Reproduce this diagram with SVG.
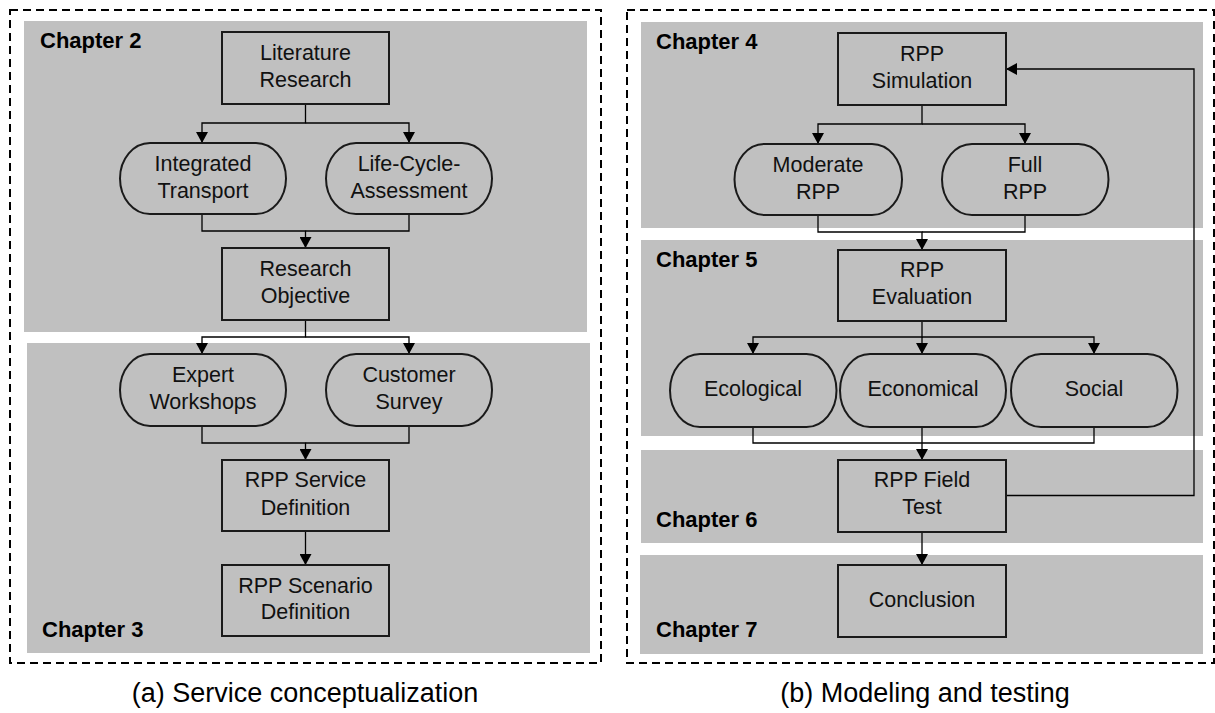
<svg xmlns="http://www.w3.org/2000/svg" width="1215" height="713" viewBox="0 0 1215 713">
<style>
.frame{fill:none;stroke:#000;stroke-width:2;stroke-dasharray:8 5}
.band{fill:#c0c0c0}
.box{fill:#c0c0c0;stroke:#1a1a1a;stroke-width:2}
.t{font-family:"Liberation Sans",Arial,sans-serif;font-size:21.5px;fill:#111;text-anchor:middle}
.ch{font-family:"Liberation Sans",Arial,sans-serif;font-size:22px;font-weight:bold;fill:#000}
.cap{font-family:"Liberation Sans",Arial,sans-serif;font-size:27px;fill:#000;text-anchor:middle}
.c{fill:none;stroke:#000;stroke-width:1.3}
</style>
<defs>
<marker id="ah" viewBox="0 0 11 12" refX="11" refY="6" markerWidth="11" markerHeight="12" markerUnits="userSpaceOnUse" orient="auto">
<path d="M0,0 L11,6 L0,12 z" fill="#000"/>
</marker>
</defs>
<rect class="frame" x="10" y="10" width="591" height="653"/>
<rect class="frame" x="627" y="10" width="587" height="653"/>
<g id="bands">
<rect class="band" x="24" y="21" width="563" height="311"/>
<rect class="band" x="27" y="343" width="563" height="310"/>
<rect class="band" x="641" y="22" width="562" height="206"/>
<rect class="band" x="641" y="240" width="562" height="196"/>
<rect class="band" x="641" y="450" width="562" height="93"/>
<rect class="band" x="640" y="555" width="563" height="99"/>
<text class="ch" x="40" y="48">Chapter 2</text>
<text class="ch" x="42" y="637">Chapter 3</text>
<text class="ch" x="656" y="49">Chapter 4</text>
<text class="ch" x="656" y="267">Chapter 5</text>
<text class="ch" x="656" y="527">Chapter 6</text>
<text class="ch" x="656" y="637">Chapter 7</text>
</g>
<g id="connectors">
<path class="c" d="M305.5,104 V123 H202 V143" marker-end="url(#ah)"/>
<path class="c" d="M305.5,123 H409 V143" marker-end="url(#ah)"/>
<path class="c" d="M202,214 V231 H305.5 V248" marker-end="url(#ah)"/>
<path class="c" d="M409,214 V231 H305.5"/>
<path class="c" d="M305.5,320 V337 H202 V354" marker-end="url(#ah)"/>
<path class="c" d="M305.5,337 H409 V354" marker-end="url(#ah)"/>
<path class="c" d="M202,426 V443 H305.5 V460" marker-end="url(#ah)"/>
<path class="c" d="M409,426 V443 H305.5"/>
<path class="c" d="M305.5,531 V565" marker-end="url(#ah)"/>
<path class="c" d="M922,105 V124 H818 V144" marker-end="url(#ah)"/>
<path class="c" d="M922,124 H1025 V144" marker-end="url(#ah)"/>
<path class="c" d="M818,215 V232 H922 V250" marker-end="url(#ah)"/>
<path class="c" d="M1025,215 V232 H922"/>
<path class="c" d="M922,321 V337 H753 V354" marker-end="url(#ah)"/>
<path class="c" d="M922,337 H1094 V354" marker-end="url(#ah)"/>
<path class="c" d="M922,337 V354" marker-end="url(#ah)"/>
<path class="c" d="M753,427 V443 H922"/>
<path class="c" d="M1094,427 V443 H922"/>
<path class="c" d="M922,427 V460" marker-end="url(#ah)"/>
<path class="c" d="M922,532 V565" marker-end="url(#ah)"/>
<path class="c" d="M1006,495.5 H1194 V69 H1006" marker-end="url(#ah)"/>
</g>
<g id="lit"><rect class="box" x="222" y="32" width="167" height="72"/><text class="t" x="305.5" y="60">Literature</text><text class="t" x="305.5" y="87">Research</text></g>
<g id="integrated"><rect class="box" x="120" y="143" width="166" height="71" rx="30" ry="35.5"/><text class="t" x="203" y="171">Integrated</text><text class="t" x="203" y="198">Transport</text></g>
<g id="lca"><rect class="box" x="326" y="143" width="166" height="71" rx="30" ry="35.5"/><text class="t" x="409" y="171">Life-Cycle-</text><text class="t" x="409" y="198">Assessment</text></g>
<g id="objective"><rect class="box" x="222" y="248" width="167" height="72"/><text class="t" x="305.5" y="276">Research</text><text class="t" x="305.5" y="303">Objective</text></g>
<g id="expert"><rect class="box" x="120" y="354" width="166" height="72" rx="30" ry="36"/><text class="t" x="203" y="382">Expert</text><text class="t" x="203" y="409">Workshops</text></g>
<g id="customer"><rect class="box" x="326" y="354" width="166" height="72" rx="30" ry="36"/><text class="t" x="409" y="382">Customer</text><text class="t" x="409" y="409">Survey</text></g>
<g id="service"><rect class="box" x="222" y="460" width="167" height="71"/><text class="t" x="305.5" y="487">RPP Service</text><text class="t" x="305.5" y="515">Definition</text></g>
<g id="scenario"><rect class="box" x="222" y="565" width="167" height="71"/><text class="t" x="305.5" y="593">RPP Scenario</text><text class="t" x="305.5" y="619">Definition</text></g>
<g id="simulation"><rect class="box" x="838" y="33" width="168" height="72"/><text class="t" x="922" y="61">RPP</text><text class="t" x="922" y="88">Simulation</text></g>
<g id="moderate"><rect class="box" x="734.5" y="144" width="167.5" height="71" rx="30" ry="35.5"/><text class="t" x="818" y="172">Moderate</text><text class="t" x="818" y="199">RPP</text></g>
<g id="full"><rect class="box" x="942" y="144" width="166.5" height="71" rx="30" ry="35.5"/><text class="t" x="1025" y="172">Full</text><text class="t" x="1025" y="199">RPP</text></g>
<g id="evaluation"><rect class="box" x="838" y="250" width="168" height="71"/><text class="t" x="922" y="277">RPP</text><text class="t" x="922" y="304">Evaluation</text></g>
<g id="ecological"><rect class="box" x="670" y="354" width="166.5" height="73" rx="30" ry="36.5"/><text class="t" x="753" y="396">Ecological</text></g>
<g id="economical"><rect class="box" x="840" y="354" width="166" height="73" rx="30" ry="36.5"/><text class="t" x="923" y="396">Economical</text></g>
<g id="social"><rect class="box" x="1011" y="354" width="166.5" height="73" rx="30" ry="36.5"/><text class="t" x="1094" y="396">Social</text></g>
<g id="fieldtest"><rect class="box" x="838" y="460" width="168" height="72"/><text class="t" x="922" y="487">RPP Field</text><text class="t" x="922" y="514">Test</text></g>
<g id="conclusion"><rect class="box" x="838" y="565" width="168" height="72"/><text class="t" x="922" y="607">Conclusion</text></g>
<text class="cap" x="305" y="702">(a) Service conceptualization</text>
<text class="cap" x="925" y="702">(b) Modeling and testing</text>
</svg>
